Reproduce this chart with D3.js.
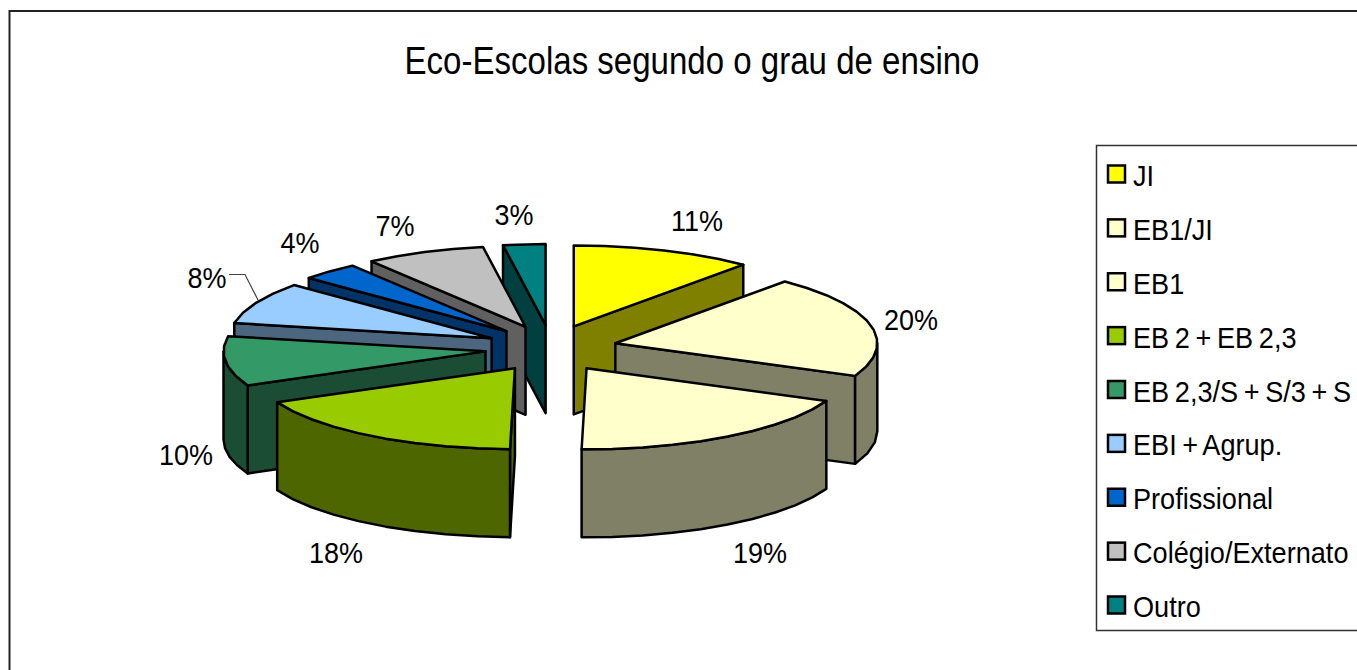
<!DOCTYPE html>
<html>
<head>
<meta charset="utf-8">
<title>Eco-Escolas segundo o grau de ensino</title>
<script src="https://cdn.jsdelivr.net/npm/d3@7"></script>
<style>
  html, body { margin: 0; padding: 0; background: #fff; overflow: hidden; }
  svg { display: block; }
  text { font-family: "Liberation Sans", Arial, sans-serif; fill: #000; }
  .face { stroke: #000; stroke-width: 2.5; stroke-linejoin: round; }
</style>
</head>
<body>
<div id="chart"></div>
<script>
const title = 'Eco-Escolas segundo o grau de ensino';
const categories = ['JI', 'EB1/JI', 'EB1', 'EB 2 + EB 2,3', 'EB 2,3/S + S/3 + S', 'EBI + Agrup.', 'Profissional', 'Colégio/Externato', 'Outro'];
const shares = [11.2, 20.4, 18.7, 17.8, 9.9, 8.4, 3.6, 7.4, 2.6];
const topColors = ['#ffff00', '#ffffcc', '#ffffcc', '#99cc00', '#339966', '#99ccff', '#0066cc', '#c0c0c0', '#008080'];
const sideColors = ['#808000', '#808066', '#808066', '#4d6600', '#1a4d33', '#4d6680', '#003366', '#606060', '#004040'];
// back slices first so the front ones paint over them
const drawOrder = [8, 0, 7, 6, 5, 1, 4, 2, 3];
// where Excel left each data label (centre of the text)
const labelSpots = [[697, 220], [911, 319], [760, 552], [336, 552], [186, 454], [207, 277], [300, 242], [395, 225], [514, 214]];

const w = 1357, h = 670;
const cx = 551, cy = 348.5;
const rx = 262, ry = 81;
const explodeX = 66, explodeY = 23.5;
const depth = 88;
const rimStep = Math.PI / 26; // coarse on purpose, the original rim is a rough polygon

const svg = d3.select('#chart').append('svg').attr('width', w).attr('height', h);

// frame only has a top and a left edge in the reference
svg.append('path')
  .attr('d', d3.line()([[9.5, h], [9.5, 11], [w, 11]]))
  .attr('fill', 'none')
  .attr('stroke', '#222')
  .attr('stroke-width', 2);

svg.append('text')
  .attr('x', 692)
  .attr('y', 74)
  .attr('text-anchor', 'middle')
  .attr('font-size', 38)
  .attr('textLength', 575)
  .attr('lengthAdjust', 'spacingAndGlyphs')
  .text(title);

const pie = d3.pie().sort(null).value(d => d);
const arcs = pie(shares);
const total = d3.sum(shares);
const line = d3.line();

function rimAngles(a0, a1) {
  const n = Math.max(1, Math.round((a1 - a0) / rimStep));
  return d3.range(n + 1).map(i => a0 + (a1 - a0) * i / n);
}

const vis = svg.append('g').attr('class', 'pie');

drawOrder.forEach(i => {
  const d = arcs[i];
  const mid = (d.startAngle + d.endAngle) / 2;
  const ax = cx + explodeX * Math.sin(mid);
  const ay = cy - explodeY * Math.cos(mid);
  const rim = a => [ax + rx * Math.sin(a), ay - ry * Math.cos(a)];
  const down = p => [p[0], p[1] + depth];
  const apex = [ax, ay];
  const g = vis.append('g');

  const face = (points, color) => g.append('path')
    .attr('class', 'face')
    .attr('d', line(points) + 'Z')
    .attr('fill', color);

  // radial walls, only the ones turned toward the viewer
  if (Math.sin(d.startAngle) < -1e-6) {
    const p = rim(d.startAngle);
    face([apex, p, down(p), down(apex)], sideColors[i]);
  }
  if (Math.sin(d.endAngle) > 1e-6) {
    const p = rim(d.endAngle);
    face([apex, p, down(p), down(apex)], sideColors[i]);
  }

  // outer wall, front half of the ellipse only
  const from = Math.max(d.startAngle, Math.PI / 2);
  const to = Math.min(d.endAngle, Math.PI * 1.5);
  if (to > from) {
    const upper = rimAngles(from, to).map(rim);
    face(upper.concat(upper.map(down).reverse()), sideColors[i]);
  }

  face([apex].concat(rimAngles(d.startAngle, d.endAngle).map(rim)), topColors[i]);
});

// data labels
const pct = d3.format('.0%');
svg.append('g').selectAll('text')
  .data(arcs)
  .enter()
  .append('text')
  .attr('text-anchor', 'middle')
  .attr('font-size', 30)
  .attr('transform', (d, i) => `translate(${labelSpots[i][0]}, ${labelSpots[i][1] + 11}) scale(0.9, 1)`)
  .text(d => pct(d.data / total));

// leader line of the 8% label
svg.append('path')
  .attr('d', line([[229, 274.5], [245, 274.5], [258, 300]]))
  .attr('fill', 'none')
  .attr('stroke', '#444')
  .attr('stroke-width', 1.2);

// legend
const legendY = d3.scalePoint().domain(categories).range([174, 605]);
svg.append('rect')
  .attr('x', 1096.5)
  .attr('y', 145.5)
  .attr('width', 300)
  .attr('height', 485)
  .attr('fill', '#fff')
  .attr('stroke', '#333')
  .attr('stroke-width', 1.5);

const legend = svg.append('g').attr('class', 'legend');
const item = legend.selectAll('g')
  .data(categories)
  .enter()
  .append('g')
  .attr('transform', d => `translate(0, ${legendY(d)})`);

item.append('rect')
  .attr('x', 1108)
  .attr('y', -8.5)
  .attr('width', 17)
  .attr('height', 17)
  .attr('fill', (d, i) => topColors[i])
  .attr('stroke', '#000')
  .attr('stroke-width', 2.5);

item.append('text')
  .attr('font-size', 29)
  .attr('word-spacing', -2)
  .attr('transform', 'translate(1133, 12) scale(0.935, 1)')
  .text(d => d);
</script>
</body>
</html>
